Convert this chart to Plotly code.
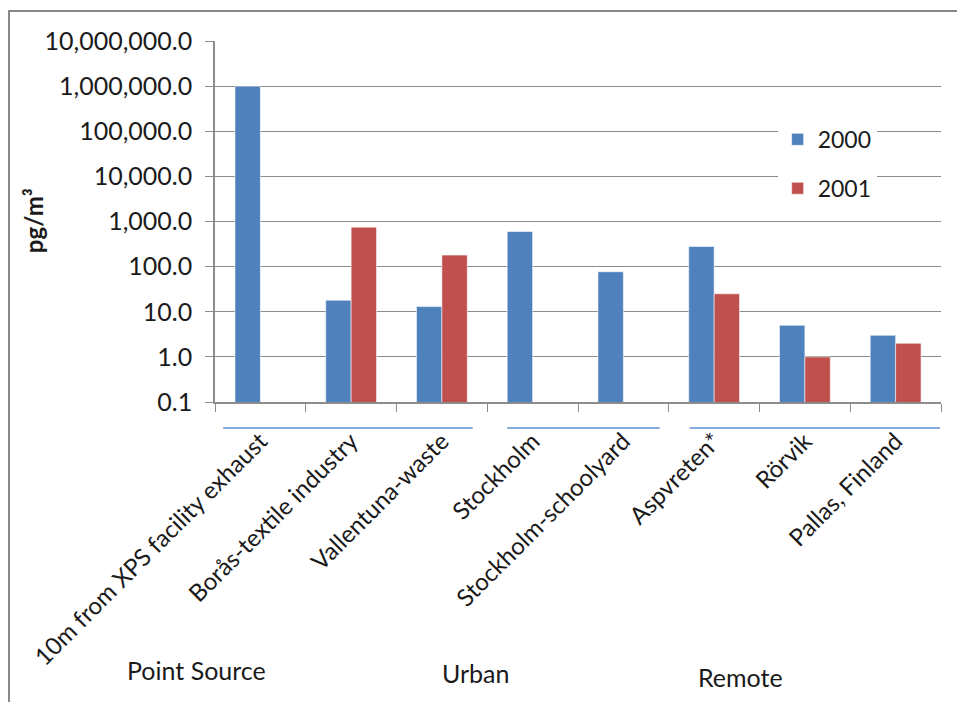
import plotly.graph_objects as go

# Sampling sites, grouped as point source / urban / remote
sites = [
    "10m from XPS facility exhaust",
    "Borås-textile industry",
    "Vallentuna-waste",
    "Stockholm",
    "Stockholm-schoolyard",
    "Aspvreten*",
    "Rörvik",
    "Pallas, Finland",
]
# Air concentrations, pg/m³ (None = not measured)
conc_2000 = [1000000, 18, 13, 600, 77, 280, 5.0, 3.0]
conc_2001 = [None, 750, 180, None, None, 25, 1.0, 2.0]

ytick_vals = [0.1, 1, 10, 100, 1000, 10000, 100000, 1000000, 10000000]
ytick_text = ["0.1", "1.0", "10.0", "100.0", "1,000.0", "10,000.0",
              "100,000.0", "1,000,000.0", "10,000,000.0"]

group_names = ["Point Source", "Urban", "Remote"]
y_title = "<b>pg/m³</b>"

FONT = "Lato"
BLUE = "#4F81BD"
RED = "#C0504D"
GRID = "#8c8c8c"
TEXT = "#1a1a1a"

fig = go.Figure()
fig.add_trace(go.Bar(
    x=sites, y=conc_2000, name="2000",
    marker=dict(color=BLUE, line=dict(color="rgba(255,255,255,0.55)", width=1)),
    legendgroup="a",
))
fig.add_trace(go.Bar(
    x=sites, y=conc_2001, name="2001",
    marker=dict(color=RED, line=dict(color="rgba(255,255,255,0.55)", width=1)),
    legendgroup="b",
))

# Underlines marking each site group (x in category units)
group_spans = [(-0.41, 2.34), (2.72, 4.40), (4.73, 7.49)]
shapes = []
for x0, x1 in group_spans:
    shapes.append(dict(type="line", xref="x", yref="paper",
                       x0=x0, x1=x1, y0=-0.072, y1=-0.072,
                       line=dict(color="#5b8fd0", width=1.5)))

# Outer frame (left and top edges)
shapes.append(dict(type="path", xref="paper", yref="paper",
                   path="M -0.2837,-1.0 L -0.2837,1.083 L 1.05,1.083",
                   line=dict(color="#878787", width=2)))

group_x = [(196 - 215) / 726, (476 - 215) / 726, (740 - 215) / 726]
group_y = [(402 - 670) / 361.3, (402 - 673) / 361.3, (402 - 677) / 361.3]
annotations = []
for name, gx, gy in zip(group_names, group_x, group_y):
    annotations.append(dict(text=name, x=gx, y=gy, xref="paper", yref="paper",
                            showarrow=False, xanchor="center", yanchor="middle",
                            font=dict(family=FONT, size=25, color=TEXT)))

# Vertical axis title
annotations.append(dict(text=y_title, x=(33 - 215) / 726, y=(402 - 221) / 361.3,
                        xref="paper", yref="paper", showarrow=False,
                        textangle=-90, xanchor="center", yanchor="middle",
                        font=dict(family=FONT, size=24, color=TEXT)))

fig.update_layout(
    width=957, height=702,
    margin=dict(l=215, r=16, t=41, b=300),
    paper_bgcolor="white", plot_bgcolor="white",
    barmode="group", bargap=0.44, bargroupgap=0,
    font=dict(family=FONT, color=TEXT),
    showlegend=True,
    legend=dict(x=0.775, y=0.787, xanchor="left", yanchor="top",
                bgcolor="white", font=dict(family=FONT, size=23),
                tracegroupgap=16, itemwidth=30),
    shapes=shapes,
    annotations=annotations,
)

fig.update_xaxes(
    type="category", showline=True, linecolor=GRID, linewidth=1.5,
    ticks="outside", tickson="boundaries", ticklen=8, tickcolor=GRID,
    tickangle=-45, tickfont=dict(family=FONT, size=24, color=TEXT),
    ticklabelstandoff=14,
    showgrid=False, automargin=False,
)
fig.update_yaxes(
    type="log", range=[-1, 7],
    tickvals=ytick_vals, ticktext=ytick_text,
    tickfont=dict(family=FONT, size=25, color=TEXT),
    ticks="outside", ticklen=8, tickcolor=GRID, ticklabelstandoff=8,
    showgrid=True, gridcolor=GRID, gridwidth=1.3,
    showline=True, linecolor=GRID, linewidth=1.5,
    automargin=False,
)

fig.write_html("out.html")
